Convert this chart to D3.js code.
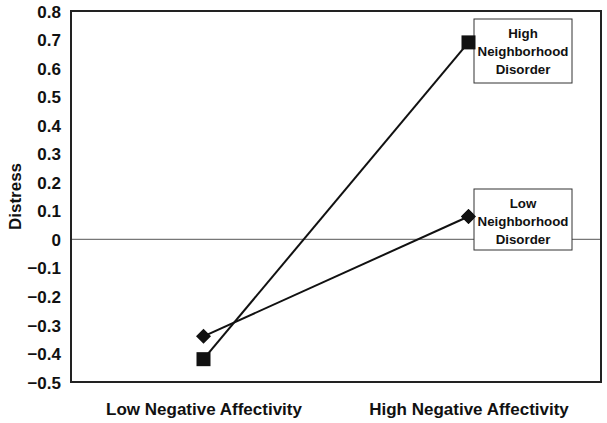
<!DOCTYPE html>
<html><head><meta charset="utf-8">
<script src="https://cdn.jsdelivr.net/npm/d3@7"></script>
<style>body{margin:0;background:#fff;} text{font-family:"Liberation Sans",Arial,sans-serif;font-weight:bold;fill:#111;}</style>
</head><body>
<svg id="c" width="607" height="423"></svg>
<script>
const categories = ["Low Negative Affectivity", "High Negative Affectivity"];
const highDisorder = [-0.42, 0.69];
const lowDisorder = [-0.34, 0.08];
const yTicks = [0.8, 0.7, 0.6, 0.5, 0.4, 0.3, 0.2, 0.1, 0, -0.1, -0.2, -0.3, -0.4, -0.5];
const seriesNames = [["High", "Neighborhood", "Disorder"], ["Low", "Neighborhood", "Disorder"]];

const svg = d3.select("#c");
const m = {l: 71, r: 6, t: 11, b: 41};
const W = 607, H = 423;
const x = d3.scalePoint().domain(categories).range([m.l, W - m.r]).padding(0.5);
const y = d3.scaleLinear().domain([-0.5, 0.8]).range([H - m.b, m.t]);

// y axis labels
const yAxis = d3.axisLeft(y).tickValues(yTicks).tickSize(0).tickPadding(10)
  .tickFormat(d => d === 0 ? "0" : d3.format(".1f")(d).replace("-", "\u2212"));
const ga = svg.append("g").attr("transform", `translate(${m.l},0)`).call(yAxis);
ga.select(".domain").remove();
ga.selectAll("text").style("font-size", "17px").attr("fill", "#111").attr("dy", "0.36em");

// zero line
svg.append("line").attr("x1", m.l).attr("x2", W - m.r).attr("y1", y(0)).attr("y2", y(0))
  .attr("stroke", "#555").attr("stroke-width", 1);

// frame
svg.append("rect").attr("x", m.l).attr("y", m.t).attr("width", W - m.r - m.l).attr("height", H - m.b - m.t)
  .attr("fill", "none").attr("stroke", "#222").attr("stroke-width", 2);

// x category labels
const xAxis = d3.axisBottom(x).tickSize(0).tickPadding(21);
const gx = svg.append("g").attr("transform", `translate(0,${H - m.b})`).call(xAxis);
gx.select(".domain").remove();
gx.selectAll("text").style("font-size", "17px").attr("fill", "#111");

// y title
svg.append("text").attr("transform", `translate(21,${(m.t + H - m.b) / 2}) rotate(-90)`)
  .attr("text-anchor", "middle").style("font-size", "17px").text("Distress");

const line = d3.line().x((d, i) => x(categories[i])).y(d => y(d));
svg.append("path").datum(highDisorder).attr("d", line).attr("fill", "none").attr("stroke", "#111").attr("stroke-width", 2);
svg.append("path").datum(lowDisorder).attr("d", line).attr("fill", "none").attr("stroke", "#111").attr("stroke-width", 2);

svg.selectAll(".dm").data(lowDisorder).join("path")
  .attr("d", (d, i) => { const cx = x(categories[i]), cy = y(d), r = 7.5; return `M${cx},${cy - r}L${cx + r},${cy}L${cx},${cy + r}L${cx - r},${cy}Z`; })
  .attr("fill", "#111");

// legend boxes
const boxes = [{top: 19, h: 64}, {top: 189, h: 61}];
boxes.forEach((b, k) => {
  const bx = 474, bw = 98;
  svg.append("rect").attr("x", bx).attr("y", b.top).attr("width", bw).attr("height", b.h)
    .attr("fill", "#fff").attr("stroke", "#333").attr("stroke-width", 1);
  seriesNames[k].forEach((t, j) => {
    svg.append("text").attr("x", bx + bw / 2).attr("y", b.top + 19 + j * 18)
      .attr("text-anchor", "middle").style("font-size", "13.3px").text(t);
  });
});
svg.selectAll(".sq").data(highDisorder).join("rect")
  .attr("x", (d, i) => x(categories[i]) - 7).attr("y", d => y(d) - 7)
  .attr("width", 14).attr("height", 14).attr("fill", "#111");
svg.append("path")
  .attr("d", (() => { const cx = x(categories[1]), cy = y(lowDisorder[1]), r = 7.5; return `M${cx},${cy - r}L${cx + r},${cy}L${cx},${cy + r}L${cx - r},${cy}Z`; })())
  .attr("fill", "#111");
</script>
</body></html>
